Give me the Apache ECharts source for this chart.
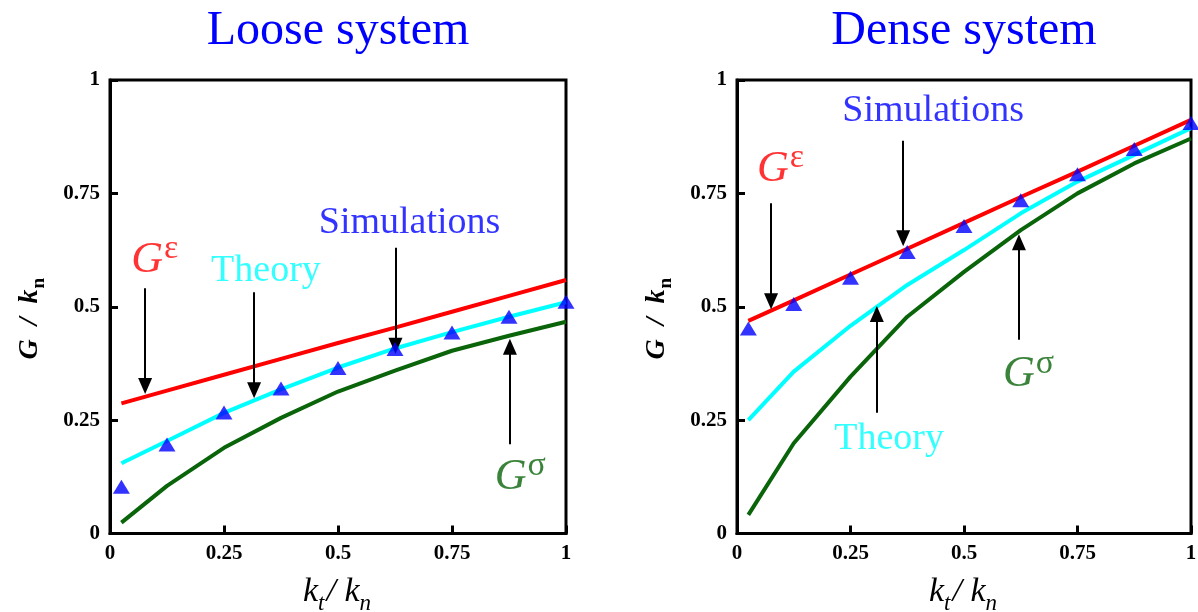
<!DOCTYPE html>
<html>
<head>
<meta charset="utf-8">
<script src="https://cdn.jsdelivr.net/npm/echarts@6/dist/echarts.min.js"></script>
<style>
html,body{margin:0;padding:0;background:#fff;}
#chart{width:1198px;height:612px;}
</style>
</head>
<body>
<div id="chart"></div>
<script>
// ---- data ----
const ktValues = [0.025, 0.125, 0.25, 0.375, 0.5, 0.625, 0.75, 0.875, 1];
const tickLabels = ['0', '0.25', '0.5', '0.75', '1'];
const panelTitles = ['Loose system', 'Dense system'];

const looseGeps   = [0.287, 0.315, 0.350, 0.385, 0.420, 0.454, 0.489, 0.524, 0.559];
const looseTheory = [0.155, 0.204, 0.266, 0.318, 0.366, 0.408, 0.444, 0.478, 0.510];
const looseGsig   = [0.024, 0.105, 0.189, 0.255, 0.313, 0.359, 0.403, 0.436, 0.467];
const looseSim    = [0.103, 0.196, 0.267, 0.320, 0.365, 0.407, 0.443, 0.478, 0.511];

const denseGeps   = [0.469, 0.514, 0.571, 0.628, 0.685, 0.742, 0.798, 0.855, 0.912];
const denseTheory = [0.250, 0.357, 0.458, 0.548, 0.625, 0.706, 0.776, 0.835, 0.894];
const denseGsig   = [0.041, 0.199, 0.346, 0.478, 0.577, 0.669, 0.750, 0.816, 0.871];
const denseSim    = [0.452, 0.506, 0.564, 0.621, 0.678, 0.735, 0.792, 0.848, 0.905];

// annotation labels (text + anchor in data coords)
const looseNotes = [
  {kind: 'geps', at: [0.098, 0.602]},
  {kind: 'theory', at: [0.342, 0.578]},
  {kind: 'sim', at: [0.657, 0.684]},
  {kind: 'gsig', at: [0.900, 0.124]}
];
const denseNotes = [
  {kind: 'geps', at: [0.096, 0.803]},
  {kind: 'sim', at: [0.432, 0.932]},
  {kind: 'theory', at: [0.335, 0.209]},
  {kind: 'gsig', at: [0.642, 0.350]}
];
// annotation arrows [from, to] in data coords
const looseArrows = [
  [[0.077, 0.541], [0.077, 0.325]],
  [[0.316, 0.532], [0.316, 0.316]],
  [[0.626, 0.630], [0.626, 0.414]],
  [[0.877, 0.197], [0.877, 0.412]]
];
const denseArrows = [
  [[0.075, 0.728], [0.075, 0.512]],
  [[0.366, 0.866], [0.366, 0.651]],
  [[0.308, 0.266], [0.308, 0.484]],
  [[0.621, 0.427], [0.621, 0.642]]
];

// ---- styles ----
const SERIF = '"Liberation Serif", "DejaVu Serif", serif';
const COL = {geps: '#ff0000', theory: '#00ffff', gsig: '#0a640a', sim: '#0000ff'};
const noteText = {
  geps: '{g|G}{s|ε}',
  gsig: '{g|G}{s|σ}',
  theory: '{t|Theory}',
  sim: '{t|Simulations}'
};
function noteRich(color) {
  return {
    g: {fontFamily: SERIF, fontStyle: 'italic', fontSize: 44, color: color, verticalAlign: 'top', lineHeight: 44},
    s: {fontFamily: SERIF, fontSize: 34, color: color, verticalAlign: 'top', lineHeight: 30, padding: [-6, 0, 0, 1]},
    t: {fontFamily: SERIF, fontSize: 38, color: color}
  };
}

function pairs(ys) { return ktValues.map((x, i) => [x, ys[i]]); }

const grids = [
  {left: 110, top: 80, width: 456, height: 453.5},
  {left: 737, top: 80, width: 454, height: 453.5}
];

const xAxes = [], yAxes = [], series = [];
const panels = [
  {geps: looseGeps, theory: looseTheory, gsig: looseGsig, sim: looseSim, notes: looseNotes, arrows: looseArrows},
  {geps: denseGeps, theory: denseTheory, gsig: denseGsig, sim: denseSim, notes: denseNotes, arrows: denseArrows}
];

panels.forEach((p, gi) => {
  xAxes.push({
    gridIndex: gi, type: 'value', min: 0, max: 1, interval: 0.25,
    name: '{i|k}{sb|t}{i|/ k}{sb|n}', nameLocation: 'middle', nameGap: 42,
    nameTextStyle: {
      rich: {
        i: {fontFamily: SERIF, fontStyle: 'italic', fontSize: 34, color: '#000', verticalAlign: 'top', lineHeight: 34},
        sb: {fontFamily: SERIF, fontStyle: 'italic', fontSize: 23, color: '#000', verticalAlign: 'top', lineHeight: 23, padding: [17, 2, 0, 0]}
      }
    },
    axisLine: {show: true, lineStyle: {color: '#000', width: 3}},
    axisTick: {show: true, inside: true, length: 8, lineStyle: {color: '#000', width: 3}},
    axisLabel: {
      margin: 10, fontFamily: SERIF, fontWeight: 'bold', fontSize: 21, color: '#000',
      formatter: v => tickLabels[Math.round(v / 0.25)]
    },
    splitLine: {show: false}
  });
  yAxes.push({
    gridIndex: gi, type: 'value', min: 0, max: 1, interval: 0.25,
    name: '{b|G  /  k}{bs|n}', nameLocation: 'middle', nameRotate: 90, nameGap: 66,
    nameTextStyle: {
      padding: [0, 24, 0, 0],
      rich: {
        b: {fontFamily: SERIF, fontStyle: 'italic', fontWeight: 'bold', fontSize: 28, color: '#000', verticalAlign: 'top', lineHeight: 28},
        bs: {fontFamily: SERIF, fontWeight: 'bold', fontSize: 19, color: '#000', verticalAlign: 'top', lineHeight: 19, padding: [14, 0, 0, 1]}
      }
    },
    axisLine: {show: true, lineStyle: {color: '#000', width: 3}},
    axisTick: {show: true, inside: true, length: 8, lineStyle: {color: '#000', width: 3}},
    axisLabel: {
      margin: 10, fontFamily: SERIF, fontWeight: 'bold', fontSize: 21, color: '#000',
      formatter: v => tickLabels[Math.round(v / 0.25)]
    },
    splitLine: {show: false}
  });

  const lineCommon = {type: 'line', xAxisIndex: gi, yAxisIndex: gi, symbol: 'none', smooth: false, animation: false, silent: true};
  series.push(Object.assign({}, lineCommon, {data: pairs(p.geps), lineStyle: {color: COL.geps, width: 4}, z: 3}));
  series.push(Object.assign({}, lineCommon, {data: pairs(p.theory), lineStyle: {color: COL.theory, width: 4}, z: 3}));
  series.push(Object.assign({}, lineCommon, {data: pairs(p.gsig), lineStyle: {color: COL.gsig, width: 4}, z: 3}));
  series.push({
    type: 'scatter', xAxisIndex: gi, yAxisIndex: gi, data: pairs(p.sim),
    symbol: 'triangle', symbolSize: [17, 14], itemStyle: {color: COL.sim}, z: 5, animation: false, silent: true
  });
  // annotations
  series.push({
    type: 'scatter', xAxisIndex: gi, yAxisIndex: gi, symbolSize: 0, z: 6, animation: false, silent: true,
    data: p.notes.map(n => ({
      value: n.at,
      label: {show: true, position: 'inside', formatter: noteText[n.kind], rich: noteRich(COL[n.kind])}
    })),
    markLine: {
      silent: true, animation: false,
      symbol: ['none', 'triangle'], symbolSize: [14, 16],
      lineStyle: {color: '#000', width: 2, type: 'solid'},
      itemStyle: {color: '#000'},
      label: {show: false},
      data: p.arrows.map(a => [{coord: a[0]}, {coord: a[1]}])
    }
  });
});

const chart = echarts.init(document.getElementById('chart'), null, {renderer: 'canvas'});
chart.setOption({
  backgroundColor: '#fff',
  animation: false,
  title: [
    {text: panelTitles[0], left: 338, top: 7, textAlign: 'center', padding: 0,
     textStyle: {fontFamily: SERIF, fontSize: 48, fontWeight: 'normal', color: '#0000ff'}},
    {text: panelTitles[1], left: 964, top: 7, textAlign: 'center', padding: 0,
     textStyle: {fontFamily: SERIF, fontSize: 48, fontWeight: 'normal', color: '#0000ff'}}
  ],
  grid: grids.map(g => Object.assign({show: true, borderColor: '#000', borderWidth: 3, backgroundColor: 'transparent', outerBoundsMode: 'none', containLabel: false}, g)),
  xAxis: xAxes,
  yAxis: yAxes,
  series: series
});
</script>
</body>
</html>
